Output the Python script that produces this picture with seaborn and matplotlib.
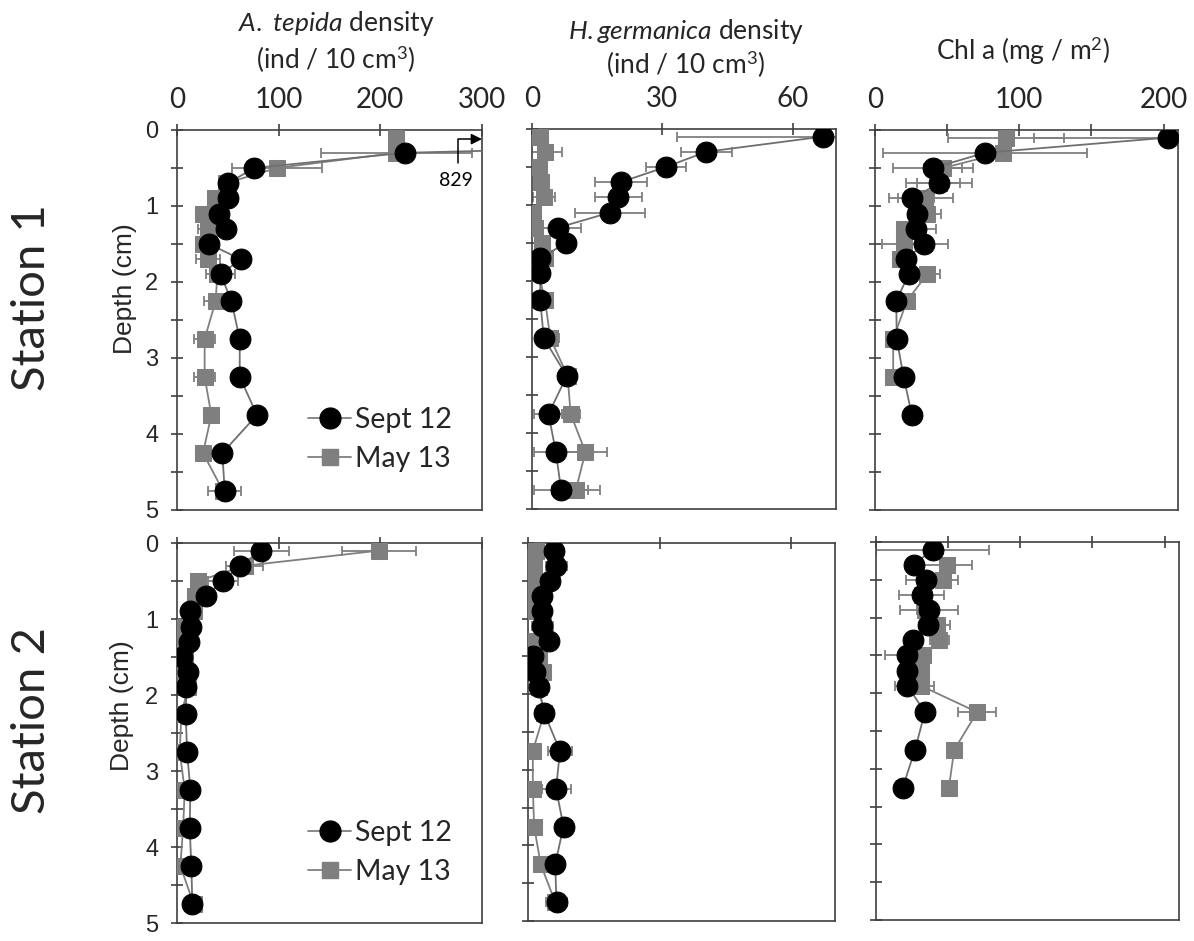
import numpy as np
import matplotlib
matplotlib.use('Agg')
import matplotlib.pyplot as plt
import seaborn as sns
from matplotlib.lines import Line2D
from matplotlib.ticker import MultipleLocator

sns.set_theme(style="ticks")
plt.rcParams['font.family'] = ['Lato', 'DejaVu Sans']
plt.rcParams['mathtext.fontset'] = 'custom'
plt.rcParams['mathtext.rm'] = 'Lato'
plt.rcParams['mathtext.it'] = 'Lato:italic'

nan = np.nan
depth = np.array([0.1, 0.3, 0.5, 0.7, 0.9, 1.1, 1.3, 1.5, 1.7, 1.9,
                  2.25, 2.75, 3.25, 3.75, 4.25, 4.75])

# Station 1 - A. tepida
st1_tep_sep = [829, 224, 76, 50, 50, 41, 48, 31.5, 62.6, 43, 53.5, 61.7, 61.7, 78.7, 44.6, 46.9]
st1_tep_sep_err = [0, 0, 0, 0, 0, 0, 0, 0, 0, 14, 0, 0, 0, 0, 0, 16]
st1_tep_may = [215.8, 215.8, 98.4, 48, 37, 25.6, 30.5, 25.6, 30.5, 39.7, 38, 27.2, 27.2, 33.8, 25.6, 45.3]
st1_tep_may_err = [0, 74, 44, 0, 0, 0, 10, 0, 12, 0, 11, 10, 10, 0, 0, 0]

# Station 1 - H. germanica
st1_ger_sep = [67, 40.1, 30.8, 20.4, 19.9, 17.9, 5.9, 7.8, 1.9, 1.9, 1.9, 2.7, 8.0, 3.8, 5.5, 6.7]
st1_ger_sep_err = [33.5, 5.9, 4.6, 6.0, 5.4, 8.1, 5.3, 0, 0, 0, 0, 0, 0, 3.4, 5.0, 6.3]
st1_ger_may = [1.9, 3.0, 1.5, 2.0, 2.8, 0.3, 0.8, 2.4, 3.0, 1.5, 3.0, 4.2, 8.2, 8.9, 12.3, 10.1]
st1_ger_may_err = [0, 3.8, 0, 0, 2.5, 0, 0, 0, 1.5, 1.5, 0, 2.1, 1.0, 2.1, 5.0, 5.6]

# Station 1 - Chl a
st1_chl_sep = [203, 76.3, 40.2, 44.6, 25.6, 29, 28.6, 33.7, 21.6, 23.3, 14.7, 15.1, 19.8, 25.6, nan, nan]
st1_chl_sep_err = [92.6, 70.5, 27.4, 22.8, 15.6, 0, 13.5, 17, 0, 0, 0, 0, 0, 0, 0, 0]
st1_chl_may = [90.7, 88.4, 47.2, 44.2, 34.9, 36, 19.8, 19.8, 17.4, 36, 22.1, 12.6, 12.6, nan, nan, nan]
st1_chl_may_err = [40, 0, 13, 15, 19, 10, 0, 15, 0, 8.8, 0, 0, 0, 0, 0, 0]

# Station 2 - A. tepida
st2_tep_sep = [83, 61.7, 45.3, 28.2, 12.5, 14.1, 11.5, 5.3, 10.9, 9.2, 8.6, 9.9, 13.2, 12.5, 14.1, 15.1]
st2_tep_sep_err = [26.7, 0, 14.7, 0, 0, 0, 0, 0, 0, 0, 0, 0, 0, 0, 0, 0]
st2_tep_may = [198.7, 66.6, 20.7, 17.4, 16.4, 7.6, 7.6, 7.6, 4.3, 10.9, 4.3, 2.7, 7.6, 6, 3.3, 16.4]
st2_tep_may_err = [36.6, 18, 0, 0, 0, 0, 0, 0, 0, 0, 0, 0, 0, 0, 0, 0]

# Station 2 - H. germanica
st2_ger_sep = [6.0, 6.4, 5.0, 3.1, 3.1, 3.3, 4.8, 1.2, 1.6, 2.4, 3.7, 7.3, 6.4, 8.1, 6.2, 6.5]
st2_ger_sep_err = [0, 2.4, 0, 0, 0, 2.4, 0, 0, 0, 0, 0, 2.7, 3.3, 1.5, 1.9, 2.3]
st2_ger_may = [1.8, 1.4, 1.4, 1.6, 1.6, 3.5, 1.2, 2.4, 3.5, 2.4, 3.7, 1.1, 1.1, 1.4, 2.9, 6.2]
st2_ger_may_err = [0, 0, 0, 0, 0, 0, 0, 2.0, 0, 0, 0, 0, 0, 0, 0, 0]

# Station 2 - Chl a
st2_chl_sep = [39.2, 26.3, 34.6, 31.6, 36.9, 35.7, 25.8, 21.2, 21.2, 21.7, 33.9, 27, 18.5, nan, nan, nan]
st2_chl_sep_err = [39, 0, 13.8, 15.7, 20, 0, 0, 15, 0, 8.5, 0, 0, 0, 0, 0, 0]
st2_chl_may = [nan, 48.9, 46.1, 31.6, 33.9, 42, 43.8, 32.8, 30.9, 30.9, 70.1, 54.2, 50.5, nan, nan, nan]
st2_chl_may_err = [0, 17.3, 10.8, 0, 5.8, 9.2, 6.5, 0, 0, 9, 13, 0, 0, 0, 0, 0]

GRAY = '#7f7f7f'
ARIAL = ['Liberation Sans', 'DejaVu Sans']
W, H = 1194, 941
fig = plt.figure(figsize=(W / 100, H / 100), dpi=100)


def add_ax(x0, y0, x1, y1):
    return fig.add_axes([x0 / W, 1 - y1 / H, (x1 - x0) / W, (y1 - y0) / H])


def draw(ax, sep, sep_err, may, may_err):
    for vals, err, color, mk, ms, lc in [(may, may_err, GRAY, 's', 11, GRAY),
                                         (sep, sep_err, 'black', 'o', 15, '#6f6f6f')]:
        vals = np.array(vals, dtype=float)
        err = np.array(err, dtype=float)
        m = (err > 0) & ~np.isnan(vals)
        if m.any():
            ax.errorbar(vals[m], depth[m], xerr=err[m], fmt='none', ecolor=GRAY,
                        elinewidth=1.3, capsize=3.5, capthick=1.3, zorder=2)
        ok = ~np.isnan(vals)
        sns.lineplot(x=vals[ok], y=depth[ok], sort=False, estimator=None, ax=ax,
                     color=lc, linewidth=1.3, marker=mk, markersize=ms,
                     markerfacecolor=color, markeredgecolor=color, legend=False,
                     zorder=3)


def style(ax, xmax, xticks, xlabels, show_x, show_y):
    ax.set_xlim(0, xmax)
    ax.xaxis.tick_top()
    ax.set_xticks(xticks)
    ax.set_xticklabels(xlabels if show_x else [''] * len(xticks))
    ax.set_yticks([0, 1, 2, 3, 4, 5])
    ax.yaxis.set_minor_locator(MultipleLocator(0.5))
    ax.set_yticklabels(['0', '1', '2', '3', '4', '5'] if show_y else [''] * 6)
    ax.set_ylim(5, 0)
    ax.set_xlabel('')
    ax.set_ylabel('')
    for s in ax.spines.values():
        s.set_visible(True)
        s.set_color('#404040')
        s.set_linewidth(1.2)
    ax.tick_params(axis='x', direction='inout', length=9, width=1.2, color='#404040',
                   labelsize=20, pad=8, top=True, bottom=False)
    ax.tick_params(axis='y', which='both', direction='inout', length=9, width=1.2,
                   color='#404040', labelsize=17, pad=9)
    for lab in ax.get_yticklabels():
        lab.set_family(ARIAL)


boxes = [[(177, 130, 482, 510), (532, 129, 836, 509), (875, 130, 1178, 510)],
         [(177, 543, 482, 923), (528, 543, 835, 921), (876, 542, 1179, 920)]]

data = [[(st1_tep_sep, st1_tep_sep_err, st1_tep_may, st1_tep_may_err),
         (st1_ger_sep, st1_ger_sep_err, st1_ger_may, st1_ger_may_err),
         (st1_chl_sep, st1_chl_sep_err, st1_chl_may, st1_chl_may_err)],
        [(st2_tep_sep, st2_tep_sep_err, st2_tep_may, st2_tep_may_err),
         (st2_ger_sep, st2_ger_sep_err, st2_ger_may, st2_ger_may_err),
         (st2_chl_sep, st2_chl_sep_err, st2_chl_may, st2_chl_may_err)]]

xsets = [(300, [0, 100, 200, 300], ['0', '100', '200', '300']),
         (70, [0, 30, 60], ['0', '30', '60']),
         (210, [0, 50, 100, 150, 200], ['0', '', '100', '', '200'])]

axes = [[None] * 3 for _ in range(2)]
for r in range(2):
    for c in range(3):
        ax = add_ax(*boxes[r][c])
        draw(ax, *data[r][c])
        xmax, xt, xl = xsets[c]
        style(ax, xmax, xt, xl, r == 0, c == 0)
        axes[r][c] = ax

# legends
handles = [Line2D([], [], color=GRAY, lw=1.3, marker='o', markersize=15,
                  markerfacecolor='black', markeredgecolor='black'),
           Line2D([], [], color=GRAY, lw=1.3, marker='s', markersize=11,
                  markerfacecolor=GRAY, markeredgecolor=GRAY)]
for r in range(2):
    axes[r][0].legend(handles, ['Sept 12', 'May 13'], loc='center left',
                      bbox_to_anchor=(0.43, 0.185), frameon=False, fontsize=20.5,
                      handlelength=1.5, handletextpad=0.15, labelspacing=0.45,
                      borderpad=0, borderaxespad=0)

# off-scale value marker
ax = axes[0][0]
ax.annotate('', xy=(300, 0.12), xytext=(276, 0.43),
            arrowprops=dict(arrowstyle='-|>', color='black', lw=1.1,
                            connectionstyle='angle,angleA=90,angleB=0,rad=0',
                            shrinkA=0, shrinkB=0, mutation_scale=16),
            annotation_clip=False)
ax.text(274, 0.66, '829', ha='center', va='center', fontsize=14, color='black')

# column headers
fig.text(336 / W, 1 - 23 / H, r'$\mathit{A.}$ $\mathit{tepida}$ density', ha='center', va='center', fontsize=19)
fig.text(336 / W, 1 - 59 / H, r'(ind / 10 cm$^{3}$)', ha='center', va='center', fontsize=19)
fig.text(686 / W, 1 - 31 / H, r'$\mathit{H.germanica}$ density', ha='center', va='center', fontsize=19)
fig.text(686 / W, 1 - 64 / H, r'(ind / 10 cm$^{3}$)', ha='center', va='center', fontsize=19)
fig.text(1023 / W, 1 - 51 / H, r'Chl a (mg / m$^{2}$)', ha='center', va='center', fontsize=19)

# row labels
fig.text(32 / W, 1 - 298 / H, 'Station 1', rotation=90, ha='center', va='center', fontsize=34)
fig.text(32 / W, 1 - 720 / H, 'Station 2', rotation=90, ha='center', va='center', fontsize=34)
fig.text(125 / W, 1 - 289 / H, 'Depth (cm)', rotation=90, ha='center', va='center',
         fontsize=19, family=ARIAL)
fig.text(122 / W, 1 - 706 / H, 'Depth (cm)', rotation=90, ha='center', va='center',
         fontsize=19, family=ARIAL)

fig.savefig('out.png', dpi=100, facecolor='white')
